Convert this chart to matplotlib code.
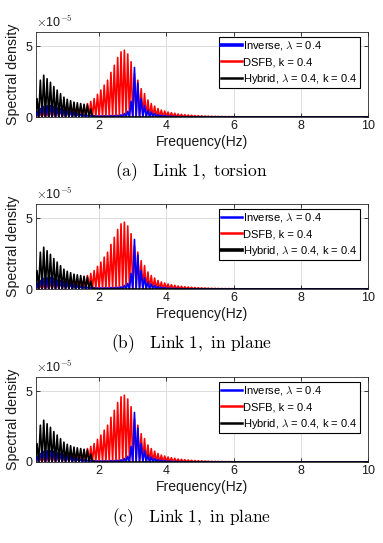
import numpy as np
import matplotlib
matplotlib.use("Agg")
import matplotlib.pyplot as plt

plt.rcParams['font.family'] = ['Liberation Sans', 'DejaVu Sans']
plt.rcParams['mathtext.fontset'] = 'cm'

# Peak frequencies of the comb-like spectra (Hz), spacing 0.1 Hz
freq_start = 0.15
freq_step = 0.1

# Peak heights (x1e-5), one per comb tooth
inverse_peaks = [0.4, 0.6, 0.75, 0.8, 0.8, 0.75, 0.65, 0.6, 0.5, 0.45,
                 0.4, 0.3, 0.25, 0.2, 0.15, 0.12, 0.1, 0.1, 0.08, 0.08,
                 0.08, 0.08, 0.1, 0.1, 0.12, 0.15, 0.25, 0.4, 1.1, 3.5,
                 2.4, 1.3, 0.8, 0.5, 0.35, 0.25, 0.18, 0.13, 0.1, 0.08,
                 0.06, 0.05, 0.04, 0.03, 0.02]
dsfb_peaks = [0.2, 0.25, 0.3, 0.35, 0.4, 0.45, 0.5, 0.5, 0.55, 0.55,
              0.6, 0.6, 0.65, 0.7, 0.8, 0.95, 1.1, 1.3, 1.6, 1.9,
              2.25, 2.6, 3.15, 3.65, 4.2, 4.6, 4.72, 4.45, 3.9, 3.05,
              2.6, 2.0, 1.65, 1.2, 0.95, 0.77, 0.6, 0.49, 0.42, 0.35,
              0.3, 0.26, 0.21, 0.19, 0.16, 0.14, 0.12, 0.1, 0.09, 0.08,
              0.07, 0.06, 0.05, 0.045, 0.04, 0.035, 0.03, 0.03, 0.025]
hybrid_peaks = [1.3, 2.6, 2.95, 2.7, 2.45, 2.15, 1.9, 1.65, 1.4, 1.25,
                1.15, 1.05, 1.0, 0.95, 0.9, 0.85, 0.55, 0.05]

f_max = 10.0
labels = [r"Inverse, $\lambda$ = 0.4", "DSFB, k = 0.4",
          r"Hybrid, $\lambda$ = 0.4, k = 0.4"]
colors = ["#0000ff", "#ff0000", "#000000"]
captions = [r"$\mathrm{(a)\quad Link\ 1,\ torsion}$",
            r"$\mathrm{(b)\quad Link\ 1,\ in\ plane}$",
            r"$\mathrm{(c)\quad Link\ 1,\ in\ plane}$"]
legend_lw = [[2.6, 1.8, 1.8], [1.8, 1.8, 2.6], [1.8, 1.8, 1.8]]


def comb(peaks):
    xs, ys = [], []
    for i, p in enumerate(peaks):
        f = freq_start + i * freq_step
        xs += [f - freq_step / 2, f]
        ys += [0.0, p]
    xs += [freq_start + len(peaks) * freq_step - freq_step / 2, f_max]
    ys += [0.0, 0.0]
    return np.array(xs), np.array(ys)


fig = plt.figure(figsize=(3.83, 5.43), dpi=100)
W, H = 383, 543
left, right = 36, 368
panels = [(32, 117, 172), (204, 289, 344), (377, 462, 518)]

for idx, (top, bot, cap_y) in enumerate(panels):
    ax = fig.add_axes([left / W, 1 - bot / H, (right - left) / W, (bot - top) / H])
    series = [inverse_peaks, dsfb_peaks, hybrid_peaks]
    zorders = [3, 2, 4]
    handles = []
    for s, c, lab, z in zip(series, colors, labels, zorders):
        x, y = comb(s)
        ln, = ax.plot(x, y, color=c, lw=1.2, zorder=z, label=lab)
        handles.append(ln)
    ax.set_xlim(0.12, 10)
    ax.set_ylim(0, 6)
    ax.set_xticks([2, 4, 6, 8, 10])
    ax.set_yticks([0, 5])
    ax.grid(True, color='#dcdcdc', lw=0.7, zorder=0)
    ax.set_axisbelow(True)
    ax.tick_params(direction='in', length=3, width=0.6, top=True, right=True,
                   labelsize=9, pad=2.5, colors='#1a1a1a')
    for sp in ax.spines.values():
        sp.set_linewidth(0.6)
        sp.set_color('#262626')
    ax.set_xlabel("Frequency(Hz)", fontsize=10, labelpad=1.5, color='#1a1a1a')
    ax.set_ylabel("Spectral density", fontsize=10.2, labelpad=4, color='#1a1a1a')
    ax.text(0.0, 1.02, r"$\times$10$^{-5}$", transform=ax.transAxes,
            fontsize=9, ha='left', va='bottom', color='#1a1a1a')
    leg = ax.legend(handles=handles, loc='upper right',
                    bbox_to_anchor=(0.976, 0.941), borderaxespad=0,
                    fontsize=8, frameon=True, fancybox=False, framealpha=1,
                    edgecolor='black', handlelength=1.9, handletextpad=0.1,
                    borderpad=0.2, labelspacing=0.45)
    leg.get_frame().set_linewidth(0.8)
    for lh, lw in zip(leg.get_lines(), legend_lw[idx]):
        lh.set_linewidth(lw)
    fig.text(0.5, 1 - cap_y / H, captions[idx], fontsize=12.5,
             ha='center', va='center')

fig.savefig("out.png", dpi=100)
